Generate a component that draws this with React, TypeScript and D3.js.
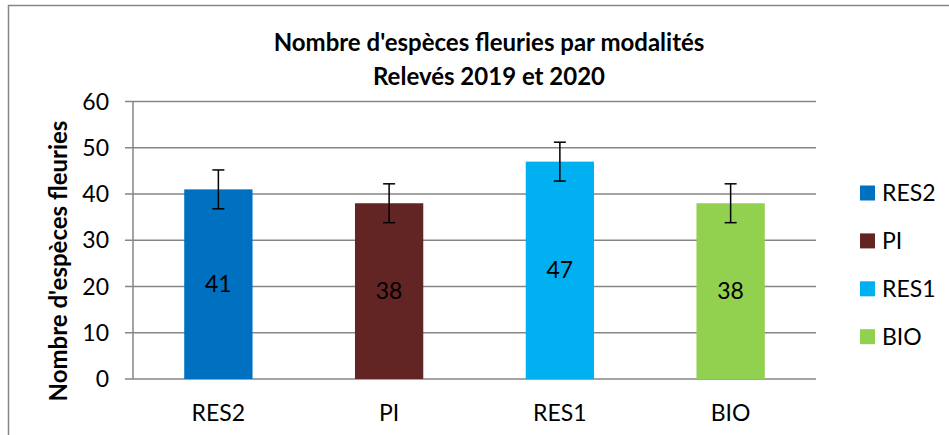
import React from "react";
import * as d3 from "d3";

const categories = ["RES2", "PI", "RES1", "BIO"];
const values = [41, 38, 47, 38];
const errors = [4.2, 4.2, 4.2, 4.2];
const colors = ["#0070C0", "#632523", "#00B0F0", "#92D050"];
const yTicks = [0, 10, 20, 30, 40, 50, 60];

const width = 949;
const height = 435;
const margin = { top: 101.5, right: 133, bottom: 56, left: 133 };
const innerWidth = 816 - margin.left;
const innerHeight = 379 - margin.top;

const font = "Lato, 'Open Sans', sans-serif";

export default function App() {
  const x = d3.scaleBand().domain(categories).range([0, innerWidth]).paddingInner(0.6).paddingOuter(0.3);
  const y = d3.scaleLinear().domain([0, 60]).range([innerHeight, 0]);

  return (
    <svg width={width} height={height} style={{ position: "absolute", left: 0, top: 0, fontFamily: font }}>
      <rect x={8.5} y={5.5} width={960} height={460} fill="#fff" stroke="#868686" strokeWidth={1.5} />

      <text x={489} y={51} textAnchor="middle" fontSize={24} fontWeight="bold">
        Nombre d'espèces fleuries par modalités
      </text>
      <text x={489} y={85} textAnchor="middle" fontSize={24} fontWeight="bold">
        Relevés 2019 et 2020
      </text>

      <g transform={`translate(${margin.left},${margin.top})`}>
        {yTicks.map(t => (
          <g key={t}>
            <line x1={-8} x2={innerWidth} y1={y(t)} y2={y(t)} stroke="#868686" strokeWidth={1.5} />
            <text x={-24} y={y(t)} dy="0.35em" textAnchor="end" fontSize={23}>{t}</text>
          </g>
        ))}
        <line x1={0} x2={0} y1={0} y2={innerHeight} stroke="#868686" strokeWidth={1.5} />

        {categories.map((c, i) => {
          const bx = x(c)!;
          const cx = bx + x.bandwidth() / 2;
          return (
            <g key={c}>
              <rect x={bx} y={y(values[i])} width={x.bandwidth()} height={innerHeight - y(values[i])} fill={colors[i]} />
              <line x1={cx} x2={cx} y1={y(values[i] + errors[i])} y2={y(values[i] - errors[i])} stroke="#000" strokeWidth={1.5} />
              <line x1={cx - 6} x2={cx + 6} y1={y(values[i] + errors[i])} y2={y(values[i] + errors[i])} stroke="#000" strokeWidth={1.5} />
              <line x1={cx - 6} x2={cx + 6} y1={y(values[i] - errors[i])} y2={y(values[i] - errors[i])} stroke="#000" strokeWidth={1.5} />
              <text x={cx} y={y(values[i] / 2)} dy="0.35em" textAnchor="middle" fontSize={23}>{values[i]}</text>
              <text x={cx} y={innerHeight + 34} dy="0.35em" textAnchor="middle" fontSize={23}>{c}</text>
            </g>
          );
        })}
      </g>

      <text transform={`translate(67,261) rotate(-90)`} textAnchor="middle" fontSize={24} fontWeight="bold">
        Nombre d'espèces fleuries
      </text>

      {categories.map((c, i) => (
        <g key={c} transform={`translate(860,${193 + i * 47.9})`}>
          <rect x={0} y={-7.5} width={15} height={15} fill={colors[i]} />
          <text x={22} y={0} dy="0.35em" fontSize={23}>{c}</text>
        </g>
      ))}
    </svg>
  );
}
